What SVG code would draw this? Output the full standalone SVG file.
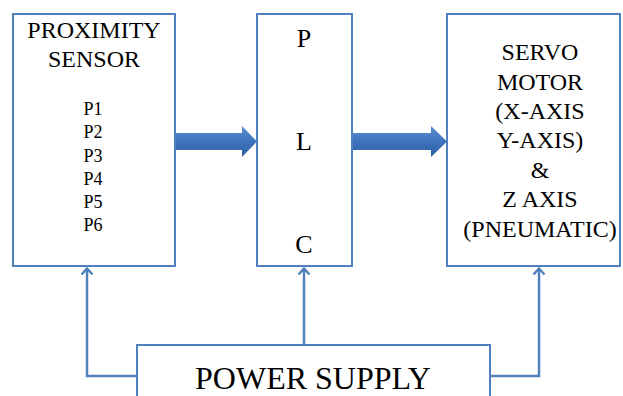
<svg xmlns="http://www.w3.org/2000/svg" width="623" height="396" viewBox="0 0 623 396">
<style>
.box{fill:#fff;stroke:#4f81bd;stroke-width:2}
.t{font-family:'Liberation Serif','Times New Roman','DejaVu Serif',serif;fill:#000;text-anchor:middle}
.ln{fill:none;stroke:#4f81bd;stroke-width:2.5}
.head{fill:none;stroke:#4f81bd;stroke-width:2.5;stroke-linejoin:miter}
.fat{fill:url(#g)}
</style>
<defs>
<linearGradient id="g" x1="0" y1="0" x2="0" y2="1">
<stop offset="0" stop-color="#5b8fd3"/>
<stop offset="0.5" stop-color="#3f73bd"/>
<stop offset="1" stop-color="#2c5d9f"/>
</linearGradient>
</defs>
<g id="connectors">
<path class="fat" d="M175,133 H242 V126 L257,141.5 L242,157 V150 H175 Z"/>
<path class="fat" d="M352,133 H431 V126 L447,141.5 L431,157 V150 H352 Z"/>
<path class="ln" d="M137,376 H87 V269"/>
<path class="head" d="M81.5,274.5 L87,268.5 L92.5,274.5"/>
<path class="ln" d="M304,345 V269"/>
<path class="head" d="M298.5,274.5 L304,268.5 L309.5,274.5"/>
<path class="ln" d="M490,376 H539 V269"/>
<path class="head" d="M533.5,274.5 L539,268.5 L544.5,274.5"/>
</g>
<g id="proximity">
<rect class="box" x="13" y="14" width="162" height="252"/>
<text class="t" x="94" y="38" font-size="24">PROXIMITY</text>
<text class="t" x="94" y="67" font-size="24">SENSOR</text>
<text class="t" x="93" y="115" font-size="18">P1</text>
<text class="t" x="93" y="138" font-size="18">P2</text>
<text class="t" x="93" y="161.5" font-size="18">P3</text>
<text class="t" x="93" y="184.5" font-size="18">P4</text>
<text class="t" x="93" y="207.5" font-size="18">P5</text>
<text class="t" x="93" y="231" font-size="18">P6</text>
</g>
<g id="plc">
<rect class="box" x="257" y="14" width="95" height="252"/>
<text class="t" x="304" y="47" font-size="26">P</text>
<text class="t" x="304" y="150" font-size="26">L</text>
<text class="t" x="304" y="253" font-size="26">C</text>
</g>
<g id="servo">
<rect class="box" x="447" y="14" width="173" height="252"/>
<text class="t" x="540" y="60" font-size="24">SERVO</text>
<text class="t" x="540" y="90" font-size="24">MOTOR</text>
<text class="t" x="540" y="119" font-size="24">(X-AXIS</text>
<text class="t" x="540" y="148" font-size="24">Y-AXIS)</text>
<text class="t" x="540" y="178" font-size="24">&amp;</text>
<text class="t" x="540" y="207" font-size="24">Z AXIS</text>
<text class="t" x="540" y="237" font-size="24">(PNEUMATIC)</text>
</g>
<g id="power">
<rect class="box" x="137" y="345" width="353" height="60"/>
<text class="t" x="313" y="389" font-size="32">POWER SUPPLY</text>
</g>
</svg>
